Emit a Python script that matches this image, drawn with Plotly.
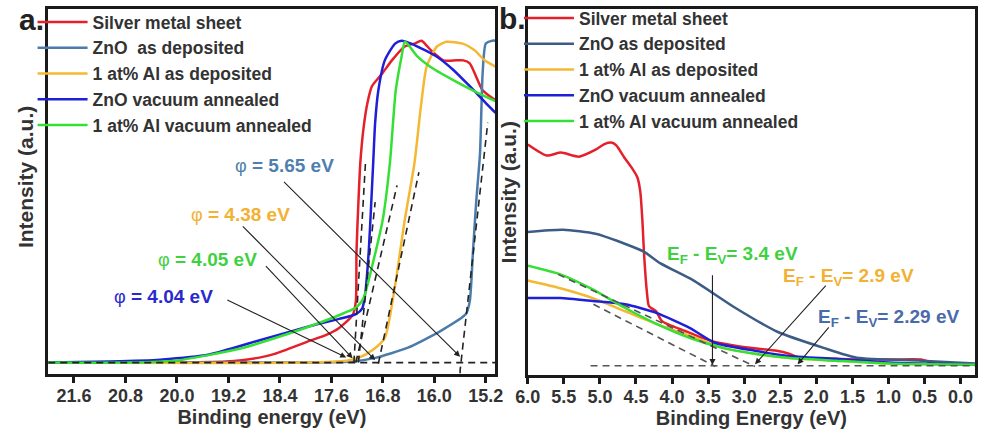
import plotly.graph_objects as go

# ---------------- Panel a data (binding energy eV, intensity a.u.) ----------------
a_silver_x = [22.0, 20.26, 19.24, 18.74, 18.48, 17.98, 17.68, 17.48, 17.27, 17.22, 17.21, 17.18, 17.15, 17.10, 17.04, 16.97, 16.81, 16.66, 16.46, 16.31, 16.20, 16.05, 15.86, 15.66, 15.55, 15.45, 15.25, 15.05]
a_silver_y = [3.0, 3.0, 3.3, 4.3, 5.4, 8.7, 10.6, 12.5, 16.0, 19.8, 33.4, 47.0, 57.9, 67.4, 74.2, 78.8, 82.3, 85.9, 89.7, 90.5, 91.3, 88.6, 85.9, 85.9, 85.9, 85.1, 77.7, 75.0]

a_zno_dep_x = [22.0, 17.98, 17.27, 16.92, 16.41, 15.90, 15.51, 15.45, 15.40, 15.35, 15.29, 15.25, 15.20, 15.10, 15.05]
a_zno_dep_y = [3.0, 3.0, 3.3, 4.3, 7.1, 11.7, 16.3, 19.8, 33.4, 47.0, 60.6, 82.3, 90.5, 91.3, 91.3]

a_al_dep_x = [22.0, 18.0, 17.37, 17.18, 16.97, 16.77, 16.61, 16.46, 16.31, 16.21, 16.12, 15.96, 15.81, 15.56, 15.37, 15.22, 15.05]
a_al_dep_y = [3.0, 3.0, 3.5, 4.3, 6.3, 9.8, 24.2, 42.1, 57.6, 73.1, 84.2, 89.7, 91.0, 90.5, 88.6, 85.9, 84.2]

a_zno_vac_x = [22.0, 21.03, 20.26, 19.50, 18.74, 17.98, 17.48, 17.22, 17.12, 17.07, 17.02, 16.98, 16.95, 16.92, 16.87, 16.77, 16.61, 16.51, 16.36, 15.96, 15.70, 15.45, 15.20, 15.05]
a_zno_vac_y = [3.0, 3.3, 3.8, 5.2, 9.0, 12.8, 15.0, 16.3, 17.9, 22.6, 33.4, 47.0, 57.9, 68.8, 77.7, 85.9, 90.5, 91.3, 90.5, 86.9, 83.2, 78.8, 74.2, 71.5]

a_al_vac_x = [22.0, 20.74, 20.03, 19.03, 18.27, 17.71, 17.40, 17.21, 17.10, 16.95, 16.80, 16.69, 16.60, 16.51, 16.46, 16.42, 16.26, 16.07, 15.70, 15.35, 15.05]
a_al_vac_y = [3.0, 3.0, 3.5, 6.8, 10.9, 14.4, 16.6, 18.2, 20.7, 30.7, 42.4, 57.9, 77.7, 86.9, 91.0, 90.5, 86.9, 84.2, 80.4, 77.2, 74.7]

# tangents (dashed) and baseline of panel a
a_tan_silver_x = [17.25, 17.07]
a_tan_silver_y = [3.0, 57.9]
a_tan_zno_vac_x = [17.18, 16.92]
a_tan_zno_vac_y = [3.0, 47.0]
a_tan_al_vac_x = [17.22, 16.58]
a_tan_al_vac_y = [3.0, 51.6]
a_tan_al_dep_x = [16.87, 16.24]
a_tan_al_dep_y = [2.7, 55.2]
a_tan_zno_dep_x = [15.60, 15.60, 15.17]
a_tan_zno_dep_y = [0.0, 0.8, 68.8]
a_base_x = [22.0, 15.05]
a_base_y = [3.0, 3.0]

# ---------------- Panel b data ----------------
b_silver_x = [6.0, 5.74, 5.54, 5.29, 5.06, 4.93, 4.83, 4.77, 4.66, 4.56, 4.48, 4.44, 4.41, 4.39, 4.35, 4.32, 4.22, 4.14, 3.82, 3.46, 2.92, 2.55, 2.38, 2.24, 1.74, 1.44, 0.93, 0.55, 0.36, 0.11, -0.2]
b_silver_y = [62.9, 59.9, 60.7, 59.6, 61.5, 63.1, 63.4, 62.6, 59.3, 56.6, 53.9, 49.9, 41.7, 33.6, 22.8, 18.7, 17.3, 14.6, 11.9, 9.2, 7.3, 6.5, 5.7, 4.6, 4.3, 4.1, 4.1, 4.1, 3.0, 2.7, 2.7]

b_zno_dep_x = [6.0, 5.51, 5.06, 4.62, 4.39, 4.16, 3.70, 3.12, 2.54, 1.90, 1.44, 0.55, -0.2]
b_zno_dep_y = [39.0, 39.6, 38.5, 35.5, 33.6, 30.4, 25.7, 18.2, 11.7, 7.3, 4.6, 3.8, 3.0]

b_al_dep_x = [6.0, 5.55, 5.10, 4.65, 4.21, 3.75, 3.30, 2.85, 2.40, 1.74, 1.0, -0.2]
b_al_dep_y = [25.7, 23.6, 20.9, 17.3, 13.8, 10.6, 7.3, 5.7, 4.6, 3.8, 3.0, 2.7]

b_zno_vac_x = [6.0, 5.55, 5.10, 4.65, 4.21, 3.75, 3.41, 2.85, 2.40, 1.74, 1.0, -0.2]
b_zno_vac_y = [20.9, 20.9, 20.1, 19.2, 16.8, 12.7, 8.7, 6.5, 5.1, 4.3, 3.3, 2.7]

b_al_vac_x = [6.07, 5.55, 5.10, 4.65, 4.21, 3.75, 3.30, 2.85, 2.40, 1.74, 1.0, -0.2]
b_al_vac_y = [30.1, 27.4, 23.3, 18.2, 13.8, 10.0, 7.3, 5.7, 4.6, 3.8, 3.0, 2.7]

b_tan1_x = [5.58, 2.85]
b_tan1_y = [27.4, 2.2]
b_tan2_x = [5.09, 3.40]
b_tan2_y = [19.2, 2.2]
b_base_x = [5.13, -0.2]
b_base_y = [2.4, 2.4]

names = ["Silver metal sheet", "ZnO  as deposited", "1 at% Al as deposited",
         "ZnO vacuum annealed", "1 at% Al vacuum annealed"]
names_b = ["Silver metal sheet", "ZnO as deposited", "1 at% Al as deposited",
           "ZnO vacuum annealed", "1 at% Al vacuum annealed"]
colors_a = ["#e5202b", "#4a7bab", "#f4b832", "#1f1fd8", "#35e035"]
colors_b = ["#e5202b", "#3d5c85", "#f4b832", "#1f1fd8", "#35e035"]

phi_values = ["5.65", "4.38", "4.05", "4.04"]
ev_values = ["3.4", "2.9", "2.29"]

FONT = "Liberation Sans, Arial, sans-serif"

fig = go.Figure()

a_series = [(a_silver_x, a_silver_y), (a_zno_dep_x, a_zno_dep_y), (a_al_dep_x, a_al_dep_y),
            (a_zno_vac_x, a_zno_vac_y), (a_al_vac_x, a_al_vac_y)]
b_series = [(b_silver_x, b_silver_y), (b_zno_dep_x, b_zno_dep_y), (b_al_dep_x, b_al_dep_y),
            (b_zno_vac_x, b_zno_vac_y), (b_al_vac_x, b_al_vac_y)]

for i, (x, y) in enumerate(a_series):
    fig.add_trace(go.Scatter(x=x, y=y, mode="lines", name=names[i],
                             line=dict(color=colors_a[i], width=2.5, shape="spline", smoothing=0.6),
                             xaxis="x", yaxis="y", legend="legend", legendgroup="a%d" % i))

dash_style = "7px,5px"
for (x, y) in [(a_tan_silver_x, a_tan_silver_y), (a_tan_zno_vac_x, a_tan_zno_vac_y),
               (a_tan_al_vac_x, a_tan_al_vac_y), (a_tan_al_dep_x, a_tan_al_dep_y),
               (a_tan_zno_dep_x, a_tan_zno_dep_y), (a_base_x, a_base_y)]:
    fig.add_trace(go.Scatter(x=x, y=y, mode="lines", showlegend=False,
                             line=dict(color="#222222", width=1.6, dash=dash_style),
                             xaxis="x", yaxis="y"))

for i, (x, y) in enumerate(b_series):
    fig.add_trace(go.Scatter(x=x, y=y, mode="lines", name=names_b[i],
                             line=dict(color=colors_b[i], width=2.5, shape="spline", smoothing=0.6),
                             xaxis="x2", yaxis="y2", legend="legend2", legendgroup="b%d" % i))

for (x, y) in [(b_tan1_x, b_tan1_y), (b_tan2_x, b_tan2_y), (b_base_x, b_base_y)]:
    fig.add_trace(go.Scatter(x=x, y=y, mode="lines", showlegend=False,
                             line=dict(color="#555555", width=1.6, dash=dash_style),
                             xaxis="x2", yaxis="y2"))

W, H = 985, 431
ydom = [1 - 373 / H, 1 - 5 / H]
ydom_b = [1 - 374 / H, 1 - 5 / H]

axis_common = dict(showline=True, mirror=True, linecolor="#1a1a1a", linewidth=2.5,
                   showgrid=False, zeroline=False)
tickfont = dict(family=FONT, size=18, color="#333333", weight="bold")
titlefont = dict(family=FONT, size=20, color="#333333", weight="bold")
legfont = dict(family=FONT, size=17.5, color="#333333", weight="bold")

fig.update_layout(
    width=W, height=H,
    margin=dict(l=0, r=0, t=0, b=0),
    paper_bgcolor="white", plot_bgcolor="white",
    xaxis=dict(domain=[36 / W, 493 / W], range=[22.0, 15.05], anchor="y",
               tick0=21.6, dtick=0.8, tickformat=".1f", ticks="outside", ticklen=7,
               tickwidth=2.5, tickcolor="#1a1a1a", tickfont=tickfont, ticklabelstandoff=-3,
               title=dict(text="Binding energy (eV)", font=titlefont, standoff=1),
               **axis_common),
    yaxis=dict(domain=ydom, range=[0, 100], anchor="x", showticklabels=False, ticks="",
               **axis_common),
    xaxis2=dict(domain=[526 / W, 983 / W], range=[6.0, -0.2], anchor="y2",
                tick0=0, dtick=0.5, tickformat=".1f", ticks="outside", ticklen=7,
                tickwidth=2.5, tickcolor="#1a1a1a", tickfont=tickfont, ticklabelstandoff=-3,
                title=dict(text="Binding Energy (eV)", font=titlefont, standoff=1),
                **axis_common),
    yaxis2=dict(domain=ydom_b, range=[0, 100], anchor="x2", showticklabels=False, ticks="",
                **axis_common),
    legend=dict(x=20 / W, y=1 + 0 / H, xanchor="left", yanchor="top",
                bgcolor="rgba(0,0,0,0)", borderwidth=0, tracegroupgap=0,
                itemwidth=50, font=legfont),
    legend2=dict(x=517 / W, y=1 + 4.5 / H, xanchor="left", yanchor="top",
                 bgcolor="rgba(0,0,0,0)", borderwidth=0, tracegroupgap=0,
                 itemwidth=50, font=legfont),
)

# y axis titles
fig.add_annotation(text="<b>Intensity (a.u.)</b>", x=13 / W, y=1 - 175 / H, xref="paper", yref="paper",
                   xanchor="center", yanchor="middle", textangle=-90, showarrow=False,
                   font=dict(family=FONT, size=21, color="#333333"))
fig.add_annotation(text="<b>Intensity (a.u.)</b>", x=506 / W, y=1 - 190 / H, xref="paper", yref="paper",
                   xanchor="center", yanchor="middle", textangle=-90, showarrow=False,
                   font=dict(family=FONT, size=21, color="#333333"))

# panel letters
fig.add_annotation(text="<b>a.</b>", x=19 / W, y=1 - 16 / H, xref="paper", yref="paper",
                   xanchor="center", yanchor="middle", showarrow=False,
                   font=dict(family=FONT, size=30, color="#222222"))
fig.add_annotation(text="<b>b.</b>", x=510 / W, y=1 - 15 / H, xref="paper", yref="paper",
                   xanchor="center", yanchor="middle", showarrow=False,
                   font=dict(family=FONT, size=30, color="#222222"))

# work function labels (panel a)
phi_pos = [(18.33, 57.1, "#4f7fae"), (19.02, 43.5, "#f2b133"),
           (19.52, 31.2, "#3fd13f"), (20.21, 21.2, "#2a2acc")]
for val, (x, y, c) in zip(phi_values, phi_pos):
    fig.add_annotation(text="<span style='font-size:18px;font-weight:normal'>φ</span><b> = %s eV</b>" % val,
                       x=x, y=y, xref="x", yref="y", showarrow=False,
                       font=dict(family=FONT, size=19, color=c))

phi_arrows = [((18.36, 53.0), (15.60, 4.6)), ((19.0, 40.8), (16.92, 3.7)),
              ((18.64, 29.9), (17.27, 4.2)), ((19.24, 20.4), (17.37, 4.4))]
for (sx, sy), (ex, ey) in phi_arrows:
    fig.add_annotation(text="", x=ex, y=ey, ax=sx, ay=sy, xref="x", yref="y",
                       axref="x", ayref="y", showarrow=True, arrowhead=2, arrowsize=1.1,
                       arrowwidth=1.1, arrowcolor="#222222")

# E_F - E_V labels (panel b)
ev_pos = [(3.16, 32.8, "#3fd13f"), (1.55, 26.8, "#f2b133"), (1.0, 15.4, "#4a6aa8")]
for val, (x, y, c) in zip(ev_values, ev_pos):
    fig.add_annotation(text="<b>E<sub>F</sub> - E<sub>V</sub>= %s eV</b>" % val,
                       x=x, y=y, xref="x2", yref="y2", showarrow=False,
                       font=dict(family=FONT, size=19, color=c))

ev_arrows = [((3.44, 27.6), (3.44, 2.6)), ((1.85, 24.7), (2.85, 2.8)),
             ((1.81, 13.3), (2.26, 2.8))]
for (sx, sy), (ex, ey) in ev_arrows:
    fig.add_annotation(text="", x=ex, y=ey, ax=sx, ay=sy, xref="x2", yref="y2",
                       axref="x2", ayref="y2", showarrow=True, arrowhead=2, arrowsize=1.1,
                       arrowwidth=1.1, arrowcolor="#222222")

fig.write_html("out.html")
